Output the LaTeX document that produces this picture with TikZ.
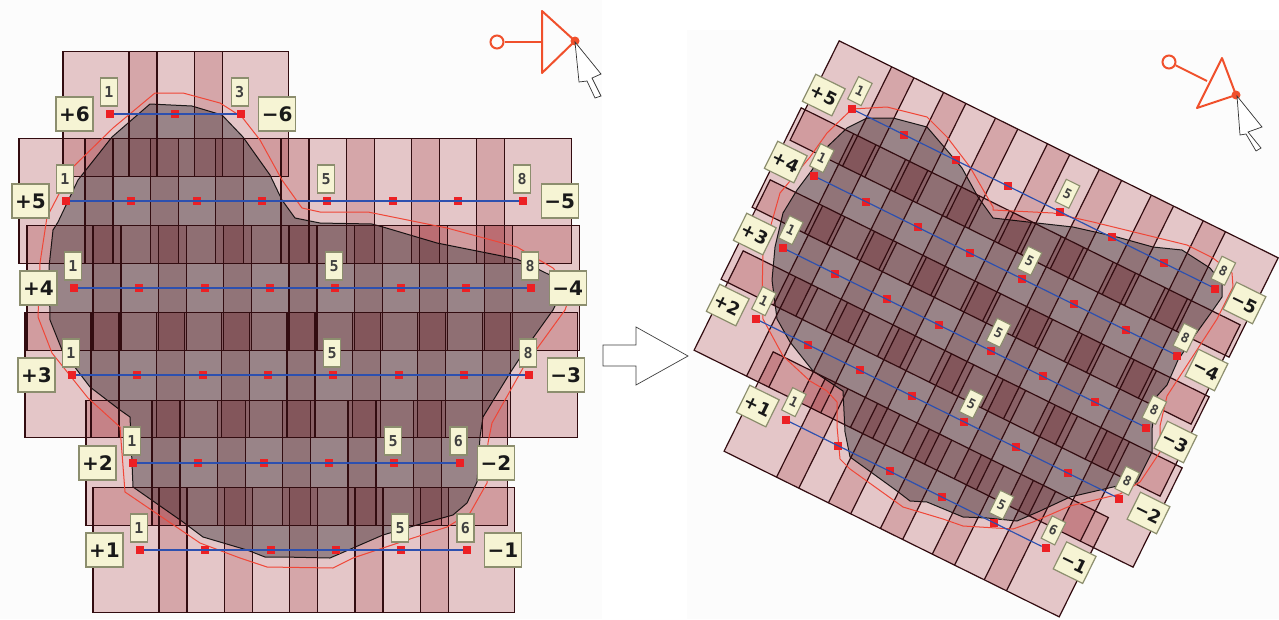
\documentclass[tikz,border=0pt]{standalone}
\usepackage{fontspec}
\setmainfont{DejaVu Sans}
\newfontfamily\minifont{DejaVu Sans Mono}
\definecolor{stripbase}{RGB}{140,0,10}
\definecolor{blobfill}{RGB}{72,62,68}
\definecolor{gridline}{RGB}{50,12,16}
\definecolor{contour}{RGB}{240,70,55}
\definecolor{seam}{RGB}{45,80,175}
\definecolor{handle}{RGB}{240,80,44}
\definecolor{tagfill}{RGB}{246,244,212}
\definecolor{tagedge}{RGB}{140,142,110}
\definecolor{paper}{RGB}{252,252,252}
\definecolor{marker}{RGB}{236,32,36}
\tikzset{
  bandfill/.style={fill=stripbase,fill opacity=.21},
  stripfill/.style={fill=stripbase,fill opacity=.16},
  bandline/.style={draw=gridline,line width=1.2pt},
  blob/.style={fill=blobfill,fill opacity=.48,draw=black,draw opacity=.85,line width=1pt,line join=round},
  redline/.style={draw=contour,line width=1pt,line join=round},
  seamline/.style={draw=seam,line width=1.2pt},
  ptbox/.style={fill=marker,draw=none,minimum size=8pt,inner sep=0pt,outer sep=0pt},
  bigtag/.style={fill=tagfill,draw=tagedge,line width=1.2pt,minimum width=37pt,minimum height=34pt,inner sep=0pt,font=\fontsize{20}{21}\selectfont\bfseries,text=black!90,transform shape},
  minitag/.style={fill=tagfill,draw=tagedge,line width=1.1pt,minimum width=17pt,minimum height=28pt,inner sep=0pt,font=\fontsize{15}{16}\minifont\bfseries,text=black!75,transform shape},
  handleline/.style={draw=handle,line width=2pt,line join=round},
  pointer/.style={draw=black!80,fill=white,line width=.7pt,line join=miter},
}
% n = number of red points on the band
\newcommand{\BandBack}[5]{%
  \begin{scope}[shift={(#1,#2)},rotate=#3,scale=#4]
    \fill[bandfill] (-47,-62.5) rectangle ({65.3*(#5-1)+48},62.5);
    \pgfmathtruncatemacro{\lastk}{#5-1}
    \foreach \k in {1,...,\lastk}
      \fill[stripfill] ({19+65.3*(\k-1)},-62.5) rectangle ({47+65.3*(\k-1)},62.5);
  \end{scope}}
\newcommand{\BandGrid}[5]{%
  \begin{scope}[shift={(#1,#2)},rotate=#3,scale=#4]
    \draw[bandline] (-47,-62.5) rectangle ({65.3*(#5-1)+48},62.5);
    \pgfmathtruncatemacro{\lastk}{#5-1}
    \foreach \k in {1,...,\lastk} {
      \draw[bandline] ({19+65.3*(\k-1)},-62.5) -- ({19+65.3*(\k-1)},62.5);
      \draw[bandline] ({47+65.3*(\k-1)},-62.5) -- ({47+65.3*(\k-1)},62.5);
    }
  \end{scope}}
% name, x, y, rot, scale, n, small-label list, plus tag, minus tag
\newcommand{\BandTop}[9]{%
  \begin{scope}[shift={(#2,#3)},rotate=#4,scale=#5]
    \foreach \k in {1,...,#6}
      \node[ptbox] (#1-\k) at ({65.3*(\k-1)},0) {};
    \draw[seamline] (#1-1) -- (#1-#6);
    \foreach \k in {#7}
      \node[minitag] (#1-tag\k) at ({65.3*(\k-1)-1},-22) {\k};
    \node[bigtag] (#1-plus) at (-35.5,0) {#8};
    \node[bigtag] (#1-minus) at ({65.3*(#6-1)+36.5},0) {#9};
  \end{scope}}
\begin{document}
\begin{tikzpicture}[x=1pt,y=-1pt]
\useasboundingbox (0,0) rectangle (1279,619);
\fill[white] (0,0) rectangle (1279,619);
\fill[paper] (0,0) rectangle (602,619);
\fill[paper] (687,30) rectangle (1279,619);
% ---------- left picture
\foreach \x/\y/\n in {110/114/3,66/201/8,74/288/8,72/375/8,133/463/6,140/550/6}
  \BandBack{\x}{\y}{0}{1}{\n};
\path[blob] (150,104)--(192,106)--(222,115)--(243,137)--(270,175)--(282,200)--(295,218)--(320,223)--(372,224)--(383,227)--(437,243)--(517,259)--(550,275)--(563,290)--(553,310)--(533,338)--(510,373)--(483,417)--(480,437)--(477,482)--(467,503)--(453,515)--(417,525)--(383,535)--(353,548)--(330,558)--(283,557)--(265,557)--(247,550)--(203,537)--(183,522)--(133,487)--(132,463)--(130,417)--(120,410)--(90,387)--(77,370)--(62,350)--(50,320)--(49,267)--(53,230)--(58,222)--(78,180)--(112,137)--cycle;
\foreach \x/\y/\n in {110/114/3,66/201/8,74/288/8,72/375/8,133/463/6,140/550/6}
  \BandGrid{\x}{\y}{0}{1}{\n};
\draw[redline] (155,93)--(183,93)--(220,103)--(242,117)--(260,140)--(282,180)--(302,208)--(320,212)--(368,212)--(447,228)--(517,247)--(553,268)--(572,290)--(565,310)--(523,368)--(492,423)--(488,443)--(487,483)--(470,513)--(447,527)--(413,538)--(353,558)--(333,568)--(267,567)--(240,558)--(200,543)--(125,492)--(120,427)--(88,398)--(52,353)--(38,317)--(40,263)--(47,217)--(73,167)--(113,128)--cycle;
\BandTop{Ls}{110}{114}{0}{1}{3}{1,3}{+6}{−6}
\BandTop{Lf}{66}{201}{0}{1}{8}{1,5,8}{+5}{−5}
\BandTop{Le}{74}{288}{0}{1}{8}{1,5,8}{+4}{−4}
\BandTop{Ld}{72}{375}{0}{1}{8}{1,5,8}{+3}{−3}
\BandTop{Lc}{133}{463}{0}{1}{6}{1,5,6}{+2}{−2}
\BandTop{Lb}{140}{550}{0}{1}{6}{1,5,6}{+1}{−1}
% handle, left
\coordinate (hlt) at (542,42);
\node[draw=handle,line width=2pt,circle,minimum size=13pt,inner sep=0pt] (hlc) at (497,42) {};
\draw[handleline] (hlc) -- (hlt);
\draw[handleline] (542,11)--(575,41)--(542,73)--cycle;
\fill[handle] (575,41) circle (4.5);
\draw[pointer] (575,42)--(601,74)--(592,78)--(601,96)--(595,98)--(587,81)--(579,82)--cycle;
% block arrow
\draw[draw=black!75,fill=white,line width=.7pt] (603,345)--(636,345)--(636,327)--(688,356)--(636,385)--(636,366)--(603,366)--cycle;
% ---------- right picture
\foreach \x/\y/\n in {852/109/8,814/176/8,783/248/8,756/319/8,786/420/6}
  \BandBack{\x}{\y}{-26.3}{.887}{\n};
\path[blob] (867,118)--(893,118)--(927,127)--(945,148)--(962,168)--(978,197)--(993,218)--(1037,223)--(1073,227)--(1117,237)--(1153,247)--(1182,250)--(1210,268)--(1222,283)--(1222,297)--(1213,310)--(1195,335)--(1178,360)--(1167,385)--(1157,396)--(1152,429)--(1152,452)--(1137,482)--(1113,487)--(1070,497)--(1040,511)--(1017,521)--(987,518)--(963,517)--(927,502)--(910,501)--(897,491)--(850,457)--(845,432)--(843,391)--(813,371)--(790,342)--(777,319)--(772,280)--(775,247)--(783,213)--(797,190)--(812,170)--(827,147)--(847,128)--cycle;
\foreach \x/\y/\n in {852/109/8,814/176/8,783/248/8,756/319/8,786/420/6}
  \BandGrid{\x}{\y}{-26.3}{.887}{\n};
\draw[redline] (852,109)--(887,107)--(927,117)--(947,137)--(970,167)--(993,207)--(993,210)--(1053,213)--(1093,222)--(1187,245)--(1213,258)--(1232,273)--(1233,287)--(1217,319)--(1167,396)--(1160,426)--(1160,452)--(1140,482)--(1120,494)--(1070,506)--(1033,522)--(1013,529)--(963,526)--(943,519)--(903,507)--(850,469)--(840,459)--(837,426)--(837,402)--(827,391)--(810,381)--(783,356)--(763,319)--(762,297)--(763,253)--(780,193)--(810,157)--(827,133)--cycle;
\BandTop{Rf}{852}{109}{-26.3}{.887}{8}{1,5,8}{+5}{−5}
\BandTop{Re}{814}{176}{-26.3}{.887}{8}{1,5,8}{+4}{−4}
\BandTop{Rd}{783}{248}{-26.3}{.887}{8}{1,5,8}{+3}{−3}
\BandTop{Rc}{756}{319}{-26.3}{.887}{8}{1,5,8}{+2}{−2}
\BandTop{Rb}{786}{420}{-26.3}{.887}{6}{1,5,6}{+1}{−1}
% handle, right
\coordinate (hrt) at (1207,81);
\node[draw=handle,line width=2pt,circle,minimum size=13pt,inner sep=0pt] (hrc) at (1169,62) {};
\draw[handleline] (hrc) -- (hrt);
\draw[handleline] (1222,58)--(1236,95)--(1197,108)--cycle;
\fill[handle] (1236,95) circle (4.5);
\draw[pointer] (1237,96)--(1262,127)--(1248,132)--(1261,148)--(1256,151)--(1246,134)--(1240,135)--cycle;
\end{tikzpicture}
\end{document}
